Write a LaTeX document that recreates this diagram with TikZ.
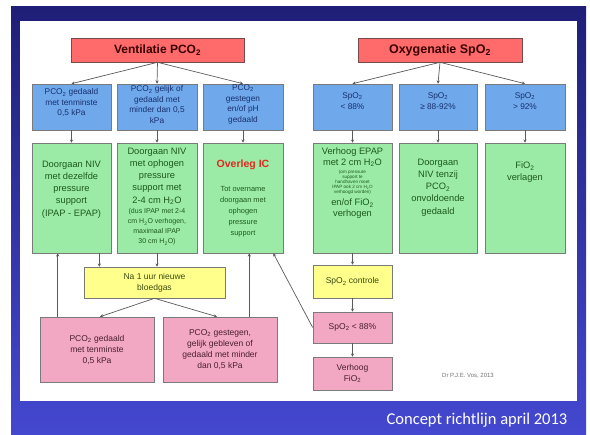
\documentclass[tikz,border=0pt]{standalone}
\usepackage{fontspec}
\setmainfont{Liberation Sans}
\newfontfamily\calib{Carlito}
\usetikzlibrary{arrows.meta}
\definecolor{redbox}{HTML}{FF6B6B}
\definecolor{bluebox}{HTML}{70A8EC}
\definecolor{greenbox}{HTML}{9BEBA7}
\definecolor{yellowbox}{HTML}{FFFF8C}
\definecolor{pinkbox}{HTML}{F2A8C2}
\definecolor{redtxt}{HTML}{3A0000}
\definecolor{bluetxt}{HTML}{17306E}
\definecolor{greentxt}{HTML}{1C5A1C}
\definecolor{yellowtxt}{HTML}{3A4A10}
\definecolor{pinktxt}{HTML}{4A1E30}
\definecolor{icred}{HTML}{E0281E}
\definecolor{slidetop}{HTML}{1F1F78}
\definecolor{slidebot}{HTML}{4448D0}
\definecolor{linecol}{HTML}{5A5A5A}
\definecolor{boxedge}{HTML}{7A7A7A}
\tikzset{
  box/.style={draw=boxedge, line width=0.6pt, inner sep=0pt, anchor=center},
  redb/.style={box, fill=redbox, draw=redtxt!70, text=redtxt, font=\fontsize{12}{14}\selectfont\bfseries},
  blueb/.style={box, fill=bluebox},
  greenb/.style={box, fill=greenbox},
  yellowb/.style={box, fill=yellowbox, text=yellowtxt, align=center},
  pinkb/.style={box, fill=pinkbox, text=pinktxt, align=center},
  bluet/.style={anchor=north, align=center, inner sep=0pt, text=bluetxt, font=\fontsize{8.3}{10.5}\selectfont},
  greent/.style={anchor=north, align=center, inner sep=0pt, text=greentxt, font=\fontsize{9.3}{12.2}\selectfont},
  smallt/.style={anchor=north, align=center, inner sep=0pt, text=greentxt, font=\fontsize{7}{10}\selectfont},
  arr/.style={draw=linecol, line width=0.7pt, -{Stealth[length=3.2pt,width=3.2pt]}},
}
\newcommand{\two}{\textsubscript{2}}
\begin{document}
\begin{tikzpicture}[x=1pt,y=-1pt]
\useasboundingbox (0,0) rectangle (590,435);
\fill[white] (0,0) rectangle (590,435);
\shade[top color=slidetop, bottom color=slidebot] (11,7) rectangle (586,435);
\fill[white] (20,21) rectangle (577,401);

% titles
\node[redb, minimum width=173pt, minimum height=24pt] (v) at (157.5,50) {Ventilatie PCO\two};
\node[redb, minimum width=164pt, minimum height=24pt, font=\fontsize{12.5}{14}\selectfont\bfseries] (o) at (440,50) {Oxygenatie SpO\two};

% blue row
\node[blueb, minimum width=79pt, minimum height=46pt] (b1) at (71.5,107) {};
\node[blueb, minimum width=80pt, minimum height=46pt] (b2) at (157,107) {};
\node[blueb, minimum width=80pt, minimum height=46pt] (b3) at (243,107) {};
\node[blueb, minimum width=79pt, minimum height=46pt] (b4) at (352.5,107) {};
\node[blueb, minimum width=78pt, minimum height=46pt] (b5) at (438,107) {};
\node[blueb, minimum width=80pt, minimum height=46pt] (b6) at (525,107) {};
\node[bluet] (tb1) at ([yshift=-5pt]b1.north) {PCO\two{} gedaald\\met tenminste\\0,5 kPa};
\node[bluet] (tb2) at ([yshift=-2pt]b2.north) {PCO\two{} gelijk of\\gedaald met\\minder dan 0,5\\kPa};
\node[bluet] (tb3) at ([yshift=-1pt]b3.north) {PCO\two\\gestegen\\en/of pH\\gedaald};
\node[bluet] (tb4) at ([yshift=-9pt]b4.north) {SpO\two\\< 88\%};
\node[bluet] (tb5) at ([yshift=-9pt]b5.north) {SpO\two\\≥ 88-92\%};
\node[bluet] (tb6) at ([yshift=-9pt]b6.north) {SpO\two\\> 92\%};

% green row
\node[greenb, minimum width=79pt, minimum height=110pt] (g1) at (71.5,198) {};
\node[greenb, minimum width=80pt, minimum height=110pt] (g2) at (157,198) {};
\node[greenb, minimum width=80pt, minimum height=110pt] (g3) at (243,198) {};
\node[greenb, minimum width=79pt, minimum height=110pt] (g4) at (352.5,198) {};
\node[greenb, minimum width=78pt, minimum height=110pt] (g5) at (438,198) {};
\node[greenb, minimum width=80pt, minimum height=110pt] (g6) at (525,198) {};
\node[greent] (tg1) at ([yshift=-18pt]g1.north) {Doorgaan NIV\\met dezelfde\\pressure\\support\\(IPAP - EPAP)};
\node[greent] (tg2) at ([yshift=-5pt]g2.north) {Doorgaan NIV\\met ophogen\\pressure\\support met\\2-4 cm H\two O};
\node[smallt] (tg2b) at ([yshift=-66pt]g2.north) {(dus IPAP met 2-4\\cm H\two O verhogen,\\maximaal IPAP\\30 cm H\two O)};
\node[anchor=center, inner sep=0pt, text=icred, font=\fontsize{10.5}{12}\selectfont\bfseries] (tg3a) at ([yshift=-22pt]g3.north) {Overleg IC};
\node[smallt, font=\fontsize{7.4}{11}\selectfont] (tg3) at ([yshift=-44pt]g3.north) {Tot overname\\doorgaan met\\ophogen\\pressure\\support};
\node[greent, font=\fontsize{9.3}{10.5}\selectfont] (tg4a) at ([yshift=-5pt]g4.north) {Verhoog EPAP\\met 2 cm H\two O};
\node[smallt, font=\fontsize{4.6}{5}\selectfont] (tg4b) at ([yshift=-27pt]g4.north) {(om pressure\\support te\\handhaven moet\\IPAP ook 2 cm H\two O\\verhoogd worden)};
\node[greent, font=\fontsize{9.3}{10.5}\selectfont] (tg4c) at ([yshift=-56pt]g4.north) {en/of FiO\two\\verhogen};
\node[greent] (tg5) at ([yshift=-16pt]g5.north) {Doorgaan\\NIV tenzij\\PCO\two\\onvoldoende\\gedaald};
\node[greent] (tg6) at ([yshift=-19pt]g6.north) {FiO\two\\verlagen};

% lower left
\node[yellowb, minimum width=141pt, minimum height=31pt, font=\fontsize{8.5}{11}\selectfont] (y1) at (154.5,282.5) {Na 1 uur nieuwe\\bloedgas};
\node[pinkb, minimum width=114pt, minimum height=65pt, font=\fontsize{8.5}{11}\selectfont] (p1) at (97,349.5) {PCO\two{} gedaald\\met tenminste\\0,5 kPa};
\node[pinkb, minimum width=114pt, minimum height=65pt, font=\fontsize{8.5}{11}\selectfont] (p2) at (220,349.5) {PCO\two{} gestegen,\\gelijk gebleven of\\gedaald met minder\\dan 0,5 kPa};

% lower right
\node[yellowb, minimum width=79pt, minimum height=33pt, font=\fontsize{8.5}{11}\selectfont] (yc) at (352.5,281.5) {SpO\two{} controle};
\node[pinkb, minimum width=79pt, minimum height=31pt, font=\fontsize{8.5}{11}\selectfont] (ps) at (352.5,327.5) {SpO\two{} < 88\%};
\node[pinkb, minimum width=79pt, minimum height=33pt, font=\fontsize{8.5}{11}\selectfont] (pv) at (352.5,373.5) {Verhoog\\FiO\two};

\node[inner sep=0pt, text=black!55, font=\fontsize{6}{7}\selectfont] (src) at (468,376) {Dr P.J.E. Vos, 2013};
\node[inner sep=0pt, text=white, font=\calib\fontsize{16.5}{19}\selectfont] (cap) at (477,420) {Concept richtlijn april 2013};

% connectors
\foreach \t in {b1,b2,b3} \draw[arr] (v.south) -- (\t.north);
\foreach \t in {b4,b5,b6} \draw[arr] (o.south) -- (\t.north);
\foreach \i in {1,...,6} \draw[arr] (b\i.south) -- (g\i.north);
\draw[arr] ([xshift=-12pt]g1.south east) -- ([xshift=-12pt]g1.south east |- y1.north);
\draw[arr] (g2.south) -- (g2.south |- y1.north);
\draw[arr] (y1.south) -- ([xshift=3pt]p1.north);
\draw[arr] (y1.south) -- ([xshift=-3pt]p2.north);
\draw[arr] ([xshift=18pt]p1.north west) -- ([xshift=18pt]p1.north west |- g1.south);
\draw[arr] ([xshift=-28pt]p2.north east) -- ([xshift=-28pt]p2.north east |- g3.south);
\draw[arr] (ps.west) -- ([xshift=-10pt]g3.south east);
\draw[arr] (g4.south) -- (yc.north);
\draw[arr] (yc.south) -- (ps.north);
\draw[arr] (ps.south) -- (pv.north);
\end{tikzpicture}
\end{document}
